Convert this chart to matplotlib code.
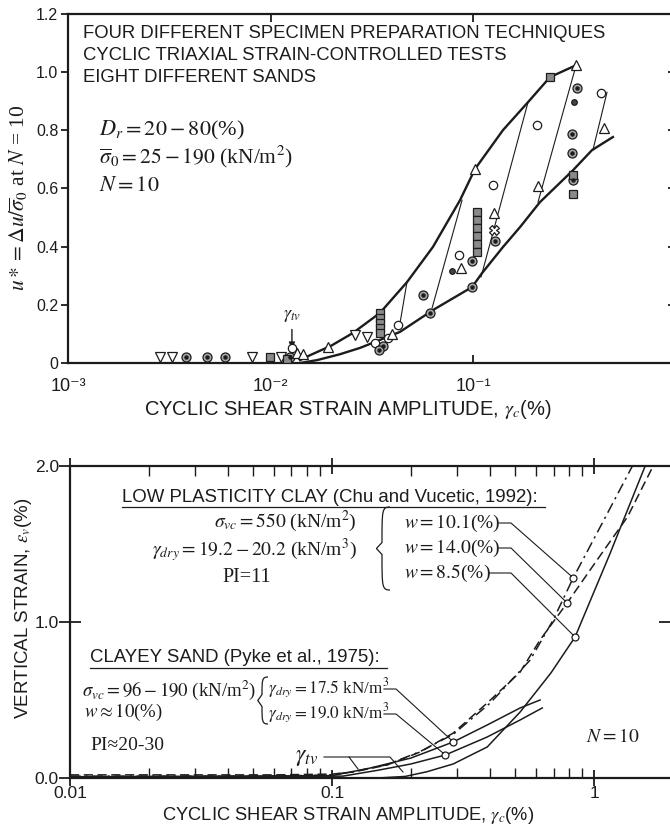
import matplotlib
matplotlib.use('Agg')
import matplotlib.pyplot as plt
from matplotlib.path import Path
from matplotlib.patches import PathPatch

plt.rcParams['font.family'] = ['Liberation Sans', 'DejaVu Sans']
plt.rcParams['mathtext.fontset'] = 'stix'
INK = '#1c1c1c'

# ---------------- top panel data ----------------
upper_gamma = [0.0140, 0.0157, 0.0200, 0.0255, 0.0347, 0.0472, 0.0634, 0.0863, 0.1023, 0.1407, 0.187, 0.240, 0.323]
upper_u = [0.010, 0.027, 0.060, 0.103, 0.172, 0.278, 0.399, 0.560, 0.667, 0.801, 0.897, 0.983, 1.024]
lower_gamma = [0.0140, 0.0170, 0.0220, 0.0277, 0.0436, 0.0634, 0.0989, 0.1108, 0.1407, 0.1706, 0.214, 0.312, 0.387, 0.491]
lower_u = [0.000, 0.010, 0.030, 0.052, 0.107, 0.182, 0.261, 0.309, 0.399, 0.467, 0.553, 0.663, 0.732, 0.777]
tie_gamma_start = [0.0472, 0.0883, 0.187, 0.323, 0.459]
tie_gamma_end = [0.0437, 0.0628, 0.1096, 0.2094, 0.391]
tie_u_start = [0.278, 0.560, 0.897, 1.024, 0.931]
tie_u_end = [0.141, 0.189, 0.296, 0.553, 0.732]

open_circle_g = [0.428, 0.207, 0.1256, 0.0853, 0.0426, 0.0128, 0.0330, 0.0380]
open_circle_u = [0.928, 0.818, 0.612, 0.371, 0.131, 0.050, 0.070, 0.085]
dot_circle_g = [0.326, 0.308, 0.308, 0.312, 0.128, 0.0989, 0.0566, 0.0613, 0.0989,
                0.00383, 0.00485, 0.00595, 0.0125, 0.0360, 0.0345]
dot_circle_u = [0.945, 0.787, 0.722, 0.629, 0.419, 0.351, 0.234, 0.172, 0.261,
                0.020, 0.020, 0.020, 0.020, 0.060, 0.045]
tri_up_g = [0.323, 0.443, 0.102, 0.209, 0.127, 0.0873, 0.0192, 0.0135, 0.0145, 0.0400]
tri_up_u = [1.024, 0.808, 0.667, 0.608, 0.515, 0.326, 0.055, 0.035, 0.030, 0.100]
tri_dn_g = [0.00284, 0.00326, 0.00812, 0.0261, 0.0113, 0.0300]
tri_dn_u = [0.020, 0.020, 0.020, 0.096, 0.020, 0.090]
square_g = [0.240, 0.312, 0.312, 0.105, 0.105, 0.105, 0.105, 0.105, 0.105,
            0.0348, 0.0348, 0.0348, 0.0348, 0.0348, 0.00993, 0.0120]
square_u = [0.983, 0.646, 0.581, 0.519, 0.491, 0.464, 0.436, 0.409, 0.381,
            0.172, 0.155, 0.138, 0.120, 0.103, 0.020, 0.015]
star_g = [0.127]
star_u = [0.457]
small_dot_g = [0.315, 0.0787]
small_dot_u = [0.897, 0.316]
gamma_tv_top = 0.01276

top_xticks = [1e-3, 1e-2, 1e-1]
top_xticklabels = ['10⁻³', '10⁻²', '10⁻¹']
top_yticks = [0, 0.2, 0.4, 0.6, 0.8, 1.0, 1.2]
top_yticklabels = ['0', '0.2', '0.4', '0.6', '0.8', '1.0', '1.2']

# ---------------- bottom panel data ----------------
clay_w101_gamma = [0.010, 0.060, 0.098, 0.120, 0.162, 0.217, 0.290, 0.401, 0.570, 0.698, 0.832, 1.10, 1.40]
clay_w101_eps = [0.012, 0.012, 0.020, 0.040, 0.085, 0.170, 0.280, 0.480, 0.756, 1.013, 1.282, 1.667, 2.000]
clay_w140_gamma = [0.010, 0.060, 0.100, 0.120, 0.162, 0.217, 0.290, 0.391, 0.522, 0.622, 0.789, 1.026, 1.34, 1.68]
clay_w140_eps = [0.020, 0.020, 0.025, 0.038, 0.083, 0.167, 0.288, 0.481, 0.679, 0.885, 1.122, 1.397, 1.673, 2.000]
clay_w85_gamma = [0.150, 0.190, 0.230, 0.290, 0.391, 0.522, 0.684, 0.846, 1.151, 1.566]
clay_w85_eps = [0.000, 0.010, 0.040, 0.090, 0.199, 0.423, 0.673, 0.904, 1.440, 2.000]
sand_175_gamma = [0.010, 0.100, 0.140, 0.200, 0.290, 0.391, 0.522, 0.622]
sand_175_eps = [0.008, 0.015, 0.064, 0.128, 0.231, 0.340, 0.449, 0.500]
sand_190_gamma = [0.010, 0.110, 0.150, 0.200, 0.270, 0.391, 0.522, 0.634]
sand_190_eps = [0.005, 0.012, 0.050, 0.090, 0.147, 0.263, 0.372, 0.449]
clay_pts_gamma = [0.832, 0.789, 0.846]
clay_pts_eps = [1.282, 1.122, 0.904]
sand_pts_gamma = [0.290, 0.270]
sand_pts_eps = [0.231, 0.147]

bot_xticks = [0.01, 0.1, 1]
bot_xticklabels = ['0.01', '0.1', '1']
bot_yticks = [0.0, 1.0, 2.0]
bot_yticklabels = ['0.0', '1.0', '2.0']

W, H = 670, 834
fig = plt.figure(figsize=(W / 100, H / 100), dpi=100)
fig.patch.set_facecolor('white')


def box(l, t, r, b):
    return [l / W, 1 - b / H, (r - l) / W, (b - t) / H]


# ================= TOP PANEL =================
ax1 = fig.add_axes(box(68, 14, 675.5, 363))
ax1.set_xscale('log')
ax1.set_xlim(1e-3, 1)
ax1.set_ylim(0, 1.2)
for s in ax1.spines.values():
    s.set_linewidth(1.6)
    s.set_color(INK)
ax1.set_xticks(top_xticks)
ax1.set_xticklabels(top_xticklabels)
ax1.minorticks_off()
ax1.tick_params(axis='x', which='major', direction='in', top=True, length=6, width=1.3,
                labelsize=13, pad=11, colors=INK)
ax1.set_yticks(top_yticks)
ax1.set_yticklabels(top_yticklabels)
ax1.tick_params(axis='y', direction='out', length=5, width=1.3, labelsize=11.5, pad=2, colors=INK)
sy1 = ax1.secondary_yaxis('right')
sy1.set_yticks(top_yticks[1:-1])
sy1.tick_params(direction='in', length=6, width=1.3, labelright=False, colors=INK)
sy1.spines['right'].set_linewidth(1.6)

ax1.plot(upper_gamma, upper_u, color=INK, lw=1.7, zorder=3)
ax1.plot(lower_gamma, lower_u, color=INK, lw=1.7, zorder=3)
for g0, g1, u0, u1 in zip(tie_gamma_start, tie_gamma_end, tie_u_start, tie_u_end):
    ax1.plot([g0, g1], [u0, u1], color=INK, lw=0.8, zorder=3)

mk = dict(ls='none', mec=INK, mew=0.9, zorder=4)
ax1.plot(open_circle_g, open_circle_u, marker='o', ms=6, mfc='white', **mk)
ax1.plot(dot_circle_g, dot_circle_u, marker='o', ms=6.5, mfc='#a8a8a8', **mk)
ax1.plot(dot_circle_g, dot_circle_u, marker='o', ms=2.2, mfc=INK, ls='none', mec=INK, zorder=5)
ax1.plot(tri_up_g, tri_up_u, marker='^', ms=7, mfc='white', **mk)
ax1.plot(tri_dn_g, tri_dn_u, marker='v', ms=7, mfc='white', **mk)
ax1.plot(square_g, square_u, marker='s', ms=6, mfc='#8a8a8a', **mk)
ax1.plot(star_g, star_u, marker='X', ms=7, mfc='white', **mk)
ax1.plot(small_dot_g, small_dot_u, marker='o', ms=4, mfc='#444444', **mk)

ax1.annotate('', xy=(gamma_tv_top, 0.04), xytext=(gamma_tv_top, 0.125),
             arrowprops=dict(arrowstyle='-|>', color=INK, lw=1.0, mutation_scale=9))

# ================= BOTTOM PANEL =================
ax2 = fig.add_axes(box(70, 466, 673, 778))
ax2.set_xscale('log')
ax2.set_xlim(0.01, 2.0)
ax2.set_ylim(0, 2.0)
for s in ax2.spines.values():
    s.set_linewidth(1.6)
    s.set_color(INK)
ax2.set_xticks(bot_xticks)
ax2.set_xticklabels(bot_xticklabels)
ax2.xaxis.set_minor_locator(matplotlib.ticker.LogLocator(base=10, subs=[2, 3, 4, 5, 6, 7, 8, 9]))
ax2.xaxis.set_minor_formatter(matplotlib.ticker.NullFormatter())
ax2.tick_params(axis='x', which='major', direction='inout', top=True, length=11, width=1.3,
                labelsize=12.5, pad=0, colors=INK)
ax2.tick_params(axis='x', which='minor', direction='in', top=True, length=7, width=1.0, colors=INK)
ax2.set_yticks(bot_yticks)
ax2.set_yticklabels(bot_yticklabels)
ax2.tick_params(axis='y', direction='inout', length=16, width=1.3, labelsize=12.5, pad=0, colors=INK)
sy2 = ax2.secondary_yaxis('right')
sy2.set_yticks([1.0])
sy2.tick_params(direction='in', length=10, width=1.3, labelright=False, colors=INK)

ax2.plot(clay_w101_gamma, clay_w101_eps, color=INK, lw=1.1, ls=(0, (7, 3, 1.5, 3)), zorder=3)
ax2.plot(clay_w140_gamma, clay_w140_eps, color=INK, lw=1.1, ls=(0, (6, 3)), zorder=3)
ax2.plot(clay_w85_gamma, clay_w85_eps, color=INK, lw=1.1, zorder=3)
ax2.plot(sand_175_gamma, sand_175_eps, color=INK, lw=1.1, zorder=3)
ax2.plot(sand_190_gamma, sand_190_eps, color=INK, lw=1.1, zorder=3)
ax2.plot(clay_pts_gamma, clay_pts_eps, marker='o', ms=5, mfc='white', mec=INK, mew=0.9, ls='none', zorder=5)
ax2.plot(sand_pts_gamma, sand_pts_eps, marker='o', ms=5, mfc='white', mec=INK, mew=0.9, ls='none', zorder=5)

# ================= overlay (pixel coordinates) =================
ov = fig.add_axes([0, 0, 1, 1], zorder=10)
ov.set_xlim(0, W)
ov.set_ylim(H, 0)
ov.axis('off')
ov.patch.set_alpha(0)


def px(ax, g, e):
    d = ax.transData.transform((g, e))
    return d[0], H - d[1]


def brace(x, y0, y1, w):
    ym = (y0 + y1) / 2
    verts = [(x + w, y0), (x, y0), (x, y0 + 3), (x, ym - 6),
             (x - w * 0.7, ym),
             (x, ym + 6), (x, y1 - 3), (x, y1), (x + w, y1)]
    codes = [Path.MOVETO, Path.CURVE4, Path.CURVE4, Path.CURVE4, Path.LINETO,
             Path.LINETO, Path.CURVE4, Path.CURVE4, Path.CURVE4]
    ov.add_patch(PathPatch(Path(verts, codes), fill=False, lw=0.9, ec=INK))


SER = ['Liberation Serif', 'DejaVu Serif']

# top panel texts
for y, s in [(33, 'FOUR DIFFERENT SPECIMEN PREPARATION TECHNIQUES'),
             (55, 'CYCLIC TRIAXIAL STRAIN-CONTROLLED TESTS'),
             (77, 'EIGHT DIFFERENT SANDS')]:
    ov.text(83, y, s, fontsize=13.3, va='center', ha='left', color=INK)
ov.text(99, 130, r'$D_r = 20 - 80$(%)', fontsize=16, va='center', ha='left', color=INK, family=SER)
ov.text(99, 157, r'$\overline{\sigma}_0 = 25 - 190$ (kN/m$^2$)', fontsize=15.5, va='center', ha='left',
        color=INK, family=SER)
ov.text(99, 185, r'$N = 10$', fontsize=16, va='center', ha='left', color=INK)
ov.text(19, 198, r'$u* = \Delta u/\overline{\sigma}_0$ at $N$ = 10', fontsize=15.5, family=SER,
        rotation=90, va='center', ha='center', color=INK)
ov.text(348, 409, r'CYCLIC SHEAR STRAIN AMPLITUDE, $\gamma_c$(%)', fontsize=14.5,
        va='center', ha='center', color=INK)
gx, _ = px(ax1, gamma_tv_top, 0)
ov.text(gx, 316, r'$\gamma_{tv}$', fontsize=13, va='center', ha='center', color=INK)

# bottom panel texts
ov.text(122, 497, 'LOW PLASTICITY CLAY (Chu and Vucetic, 1992):', fontsize=13.4, va='center',
        ha='left', color=INK)
ov.plot([122, 545], [507, 507], color=INK, lw=0.9)
ov.text(357, 521, r'$\sigma_{vc} = 550$ (kN/m$^2$)', fontsize=14, va='center', ha='right', color=INK, family=SER)
ov.text(357, 550, r'$\gamma_{dry} = 19.2 - 20.2$ (kN/m$^3$)', fontsize=14, va='center', ha='right', color=INK,
        family=SER)
ov.text(222, 578, 'PI=11', fontsize=14.5, va='center', ha='left', color=INK, family=SER)
brace(382, 507, 590, 8)
w_texts = [r'$w = 10.1$(%)', r'$w = 14.0$(%)', r'$w = 8.5$(%)']
w_y = [523, 548, 573]
for i, (s, y) in enumerate(zip(w_texts, w_y)):
    ov.text(404, y, s, fontsize=14, va='center', ha='left', color=INK, family=SER)
    cx, cy = px(ax2, clay_pts_gamma[i], clay_pts_eps[i])
    ov.plot([499 - (10 if i == 2 else 0), 511, cx - 2], [y, y, cy - 2], color=INK, lw=0.8)

ov.text(90, 657, 'CLAYEY SAND (Pyke et al., 1975):', fontsize=13.4, va='center', ha='left', color=INK)
ov.plot([90, 387], [668, 668], color=INK, lw=0.9)
ov.text(82, 690, r'$\sigma_{vc} = 96 - 190$ (kN/m$^2$)', fontsize=13.5, va='center', ha='left', color=INK,
        family=SER)
ov.text(84, 712, r'$w \approx 10$(%)', fontsize=13.5, va='center', ha='left', color=INK, family=SER)
ov.text(90, 745, 'PI≈20-30', fontsize=14, va='center', ha='left', color=INK, family=SER)
brace(262, 677, 724, 6)
s_texts = [r'$\gamma_{dry} = 17.5$ kN/m$^3$', r'$\gamma_{dry} = 19.0$ kN/m$^3$']
s_y = [688, 713]
for i, (s, y) in enumerate(zip(s_texts, s_y)):
    ov.text(268, y, s, fontsize=12.3, va='center', ha='left', color=INK, family=SER)
    cx, cy = px(ax2, sand_pts_gamma[i], sand_pts_eps[i])
    ov.plot([384, 396, cx - 2], [y + 1, y + 1, cy - 2], color=INK, lw=0.8)

ov.text(318, 757, r'$\gamma_{tv}$', fontsize=17, va='center', ha='right', color=INK)
ov.plot([324, 390, 403], [757, 757, 772], color=INK, lw=0.8)
ov.plot([349, 358], [757, 769], color=INK, lw=0.8)
ov.text(613, 737, r'$N = 10$', fontsize=14, va='center', ha='center', color=INK)
ov.text(24, 608, r'VERTICAL STRAIN, $\varepsilon_v$(%)', fontsize=13.5, rotation=90,
        va='center', ha='center', color=INK)
ov.text(348, 815, r'CYCLIC SHEAR STRAIN AMPLITUDE, $\gamma_c$(%)', fontsize=13.2,
        va='center', ha='center', color=INK)

fig.savefig('out.png', dpi=100, facecolor='white')
